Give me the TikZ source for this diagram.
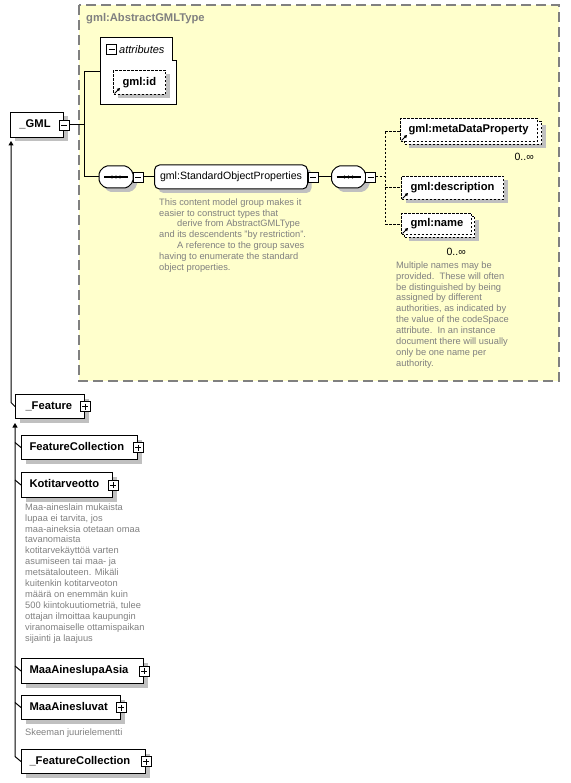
\documentclass[tikz,border=0pt]{standalone}
\usepackage{fontspec}
\setmainfont{Liberation Sans}
\usetikzlibrary{shadows,arrows.meta}
\definecolor{yel}{HTML}{FFFFCC}
\definecolor{shd}{HTML}{C0C0C0}
\definecolor{anncol}{HTML}{808080}
\definecolor{framecol}{HTML}{808080}
\newcommand\vstr{\rule[-3pt]{0pt}{11pt}}
\newcommand\astr{\rule{0pt}{7.5pt}}
\tikzset{
  shadowed/.style={general shadow={fill=shd, shadow xshift=4pt, shadow yshift=-4pt}},
  elembase/.style={draw=black, fill=white, line width=1pt, inner sep=0pt, minimum height=24pt, anchor=north west, font=\fontsize{11.2}{13}\selectfont\bfseries},
  elem/.style={elembase, shadowed},
  dsh/.style={dash pattern=on 2.5pt off 1.5pt},
  refel/.style={elem, dsh},
  refback/.style={elembase, shadowed, dsh},
  reffront/.style={elembase, dsh},
  ann/.style={anchor=north west, inner sep=0pt, align=left, text=anncol, font=\fontsize{9.3}{10.9}\selectfont},
  conn/.style={line width=1pt, black},
  inh/.style={line width=1pt, black, -{Triangle[length=4.5pt,width=5pt]}},
  mult/.style={anchor=east, inner sep=0pt, font=\fontsize{10.5}{12}\selectfont},
  pics/mboxc/.style={code={
    \draw[fill=white, line width=0.8pt] (-5,-5) rectangle (5,5);
    \draw[line width=0.8pt] (-3,0) -- (3,0);
    \coordinate (-e) at (5,0);}},
  pics/pboxc/.style={code={
    \draw[fill=white, line width=0.8pt] (-5,-5) rectangle (5,5);
    \draw[line width=0.8pt] (-3,0) -- (3,0) (0,-3) -- (0,3);
    \coordinate (-e) at (5,0);}},
  pics/mboxr/.style={code={
    \draw[fill=white, line width=0.8pt] (0,-5) rectangle (10,5);
    \draw[line width=0.8pt] (2,0) -- (8,0);
    \coordinate (-e) at (10,0);}},
  pics/seqc/.style={code={
    \fill[shd, rounded corners=2pt] (-7,-7) -- (15,-7) -- (21,-1) -- (21,9) -- (15,15) -- (-7,15) -- (-13,9) -- (-13,-1) -- cycle;
    \draw[fill=white, line width=1pt, rounded corners=2pt] (-11,-11) -- (11,-11) -- (17,-5) -- (17,5) -- (11,11) -- (-11,11) -- (-17,5) -- (-17,-5) -- cycle;
    \draw[line width=1.2pt] (-12,0) -- (12,0);
    \fill (-4,0) circle (1.7) (0,0) circle (1.7) (4,0) circle (1.7);
    \coordinate (-w) at (-17,0);
    \coordinate (-e) at (17,0);}},
  pics/refarrow/.style={code={
    \draw[line width=0.8pt, -{Triangle[length=3pt,width=3.2pt]}] (1.5,-1.5) -- (7,-7);}}
}
\begin{document}
\begin{tikzpicture}[x=1pt,y=-1pt]
\useasboundingbox (0,0) rectangle (570,783);
% container
\fill[yel] (79,5) rectangle (559,381);
\draw[framecol, line width=1.2pt, dash pattern=on 10pt off 5pt] (79,5) rectangle (559,381);
\node[anchor=west, text=framecol, inner sep=0pt, font=\fontsize{11.2}{13}\selectfont\bfseries] (agt) at (86,19) {gml:AbstractGMLType};

% attributes
\node[minimum width=76pt, minimum height=67pt, inner sep=0pt, anchor=north west] (attr) at (100,38) {};
\draw[fill=white, line width=1pt] (100,38) -- (172,38) -- (172,61) -- (176,61) -- (176,105) -- (100,105) -- cycle;
\pic at (111.5,49.5) {mboxc};
\node[anchor=west, inner sep=0pt, font=\fontsize{11}{13}\selectfont\itshape] (attrtxt) at (119,50) {attributes};
\node[refel, minimum height=24pt] (gid) at (113,70) {\makebox[52pt][l]{\hspace{9pt}\vstr gml:id}};
\pic at (gid.south west) {refarrow};

% _GML
\node[elem, minimum height=25pt] (gml) at (10,112) {\makebox[53pt][l]{\hspace{9pt}\vstr\_GML}};
\pic (gmlm) at (gml.east) {mboxc};

% sequences and group
\pic (s1) at (116,177) {seqc};
\pic (s1m) at (s1-e) {mboxr};
\node[shadowed, draw=black, fill=white, line width=1pt, rounded corners=5pt, minimum width=153pt, minimum height=24pt, inner sep=0pt, anchor=west, font=\fontsize{10.6}{12}\selectfont] (sop) at (154,177) {\vstr gml:StandardObjectProperties};
\pic (sopm) at (sop.east) {mboxr};
\pic (s2) at (348.5,177) {seqc};
\pic (s2m) at (s2-e) {mboxr};

% connectors left
\coordinate (ja) at (84,72);
\coordinate (jc) at (84,177);
\draw[conn] (attr.west |- ja) -- (ja) -- (jc) -- (s1-w);
\draw[conn] (gmlm-e) -- (gmlm-e -| ja);
\draw[conn] (s1m-e) -- (sop.west);
\draw[conn] (sopm-e) -- (s2-w);

% right elements
\node[refback, minimum width=137pt, minimum height=23pt] (mdB) at (404,121) {};
\node[reffront, minimum height=23pt] (md) at (400,118) {\makebox[137pt][l]{\hspace{8pt}\vstr gml:metaDataProperty}};
\pic at (md.south west) {refarrow};
\node[mult] (m1) at (534,157) {0..∞};

\node[refel, minimum height=23pt] (desc) at (401,176) {\makebox[102pt][l]{\hspace{9pt}\vstr gml:description}};
\pic at (desc.south west) {refarrow};

\node[refback, minimum width=70pt, minimum height=21pt] (nmB) at (404,216) {};
\node[reffront, minimum height=21pt] (nm) at (401,213) {\makebox[70pt][l]{\hspace{9pt}\vstr gml:name}};
\pic at (nm.south west) {refarrow};
\node[mult] (m2) at (466,252) {0..∞};

\coordinate (jt) at (385,132);
\coordinate (jb) at (385,225);
\draw[conn, dsh] (s2m-e) -- (s2m-e -| jt);
\draw[conn, dsh] (jt) -- (jb);
\draw[conn, dsh] (jt) -- (md.west |- jt);
\draw[conn, dsh] (desc.west -| jt) -- (desc.west);
\draw[conn, dsh] (jb) -- (nm.west |- jb);

% annotations
\node[ann] (a1) at (159,197.5) {\astr This content model group makes it\\
easier to construct types that\\
\hspace*{18pt}derive from AbstractGMLType\\
and its descendents "by restriction".\\
\hspace*{18pt}A reference to the group saves\\
having to enumerate the standard\\
object properties.};

\node[ann] (a2) at (396,260.5) {\astr Multiple names may be\\
provided.\ \ These will often\\
be distinguished by being\\
assigned by different\\
authorities, as indicated by\\
the value of the codeSpace\\
attribute.\ \ In an instance\\
document there will usually\\
only be one name per\\
authority.};

% derived elements
\node[elem, minimum height=24pt] (feat) at (15,394) {\makebox[69pt][l]{\hspace{10pt}\vstr\_Feature}};
\pic at (feat.east) {pboxc};
\node[elem, minimum height=24pt] (fcol) at (21,435) {\makebox[116pt][l]{\hspace{8pt}\vstr FeatureCollection}};
\pic at (fcol.east) {pboxc};
\node[elem, minimum height=25pt] (koti) at (21,472) {\makebox[91pt][l]{\hspace{8pt}\vstr Kotitarveotto}};
\pic at (koti.east) {pboxc};
\node[ann] (a3) at (25,502.5) {\astr Maa-aineslain mukaista\\
lupaa ei tarvita, jos\\
maa-aineksia otetaan omaa\\
tavanomaista\\
kotitarvekäyttöä varten\\
asumiseen tai maa- ja\\
metsätalouteen. Mikäli\\
kuitenkin kotitarveoton\\
määrä on enemmän kuin\\
500 kiintokuutiometriä, tulee\\
ottajan ilmoittaa kaupungin\\
viranomaiselle ottamispaikan\\
sijainti ja laajuus};
\node[elem, minimum height=25pt] (mla) at (21,658) {\makebox[122pt][l]{\hspace{8pt}\vstr MaaAineslupaAsia}};
\pic at (mla.east) {pboxc};
\node[elem, minimum height=24pt] (mlv) at (21,695) {\makebox[99pt][l]{\hspace{8pt}\vstr MaaAinesluvat}};
\pic at (mlv.east) {pboxc};
\node[ann] (a4) at (25,727.5) {\astr Skeeman juurielementti};
\node[elem, minimum height=24pt] (fc2) at (21,749) {\makebox[124pt][l]{\hspace{8pt}\vstr\_FeatureCollection}};
\pic at (fc2.east) {pboxc};

% inheritance
\coordinate (t1) at (11,141);
\coordinate (t2) at (15,423);
\draw[inh] (feat.west) -- ++(-4,-4) -- (t1);
\draw[inh] (fc2.west) -- ++(-6,-5) -- (t2);
\draw[conn] (fcol.west) -- ++(-6,-5);
\draw[conn] (koti.west) -- ++(-6,-5);
\draw[conn] (mla.west) -- ++(-6,-5);
\draw[conn] (mlv.west) -- ++(-6,-5);
\end{tikzpicture}
\end{document}
